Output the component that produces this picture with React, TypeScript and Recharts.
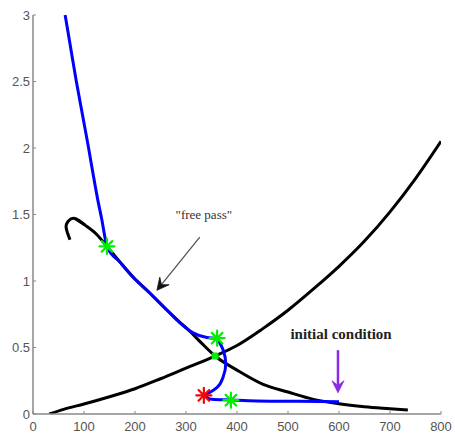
import React from 'react';
import {
    ComposedChart,
    Line,
    XAxis,
    YAxis,
    ReferenceDot,
    ReferenceLine,
} from 'recharts';

// Nullcline that rises to the right
const risingCurve = [
    { x: 32, y: 0 }, { x: 60, y: 0.035 }, { x: 100, y: 0.075 }, { x: 150, y: 0.13 },
    { x: 200, y: 0.19 }, { x: 250, y: 0.265 }, { x: 300, y: 0.345 }, { x: 357, y: 0.436 },
    { x: 400, y: 0.515 }, { x: 450, y: 0.64 }, { x: 500, y: 0.78 }, { x: 550, y: 0.94 },
    { x: 600, y: 1.11 }, { x: 650, y: 1.3 }, { x: 700, y: 1.52 }, { x: 750, y: 1.77 },
    { x: 800, y: 2.05 },
];

// Nullcline that falls to the right; the hook at its left end is kept apart
const hookCurve = [
    { x: 72.5, y: 1.31 }, { x: 65, y: 1.4 }, { x: 69, y: 1.45 }, { x: 82, y: 1.47 }, { x: 102, y: 1.42 },
];
const fallingCurve = [
    { x: 82, y: 1.47 }, { x: 102, y: 1.42 }, { x: 125, y: 1.35 }, { x: 145, y: 1.26 },
    { x: 171, y: 1.14 }, { x: 196, y: 1.03 }, { x: 229, y: 0.91 }, { x: 263, y: 0.78 },
    { x: 288, y: 0.69 }, { x: 308, y: 0.62 }, { x: 330, y: 0.535 }, { x: 357, y: 0.436 },
    { x: 400, y: 0.33 }, { x: 450, y: 0.225 }, { x: 500, y: 0.165 }, { x: 550, y: 0.11 },
    { x: 600, y: 0.077 }, { x: 650, y: 0.055 }, { x: 700, y: 0.04 }, { x: 735, y: 0.03 },
];

// Trajectory in three pieces: the run in from the initial condition,
// the loop round the fixed point, and the climb along the falling nullcline
const trajectoryStart = [
    { x: 335, y: 0.14 }, { x: 351, y: 0.11 }, { x: 386, y: 0.105 }, { x: 439, y: 0.098 },
    { x: 520, y: 0.095 }, { x: 600, y: 0.093 },
];
const trajectoryLoop = [
    { x: 335, y: 0.14 }, { x: 348, y: 0.165 }, { x: 361, y: 0.2 }, { x: 373, y: 0.28 },
    { x: 378, y: 0.38 }, { x: 373, y: 0.48 }, { x: 361, y: 0.57 },
];
const trajectoryEnd = [
    { x: 63, y: 3.0 }, { x: 74, y: 2.75 }, { x: 85, y: 2.5 }, { x: 97, y: 2.25 },
    { x: 109, y: 2.0 }, { x: 118, y: 1.8 }, { x: 127, y: 1.61 }, { x: 135, y: 1.46 },
    { x: 141, y: 1.33 }, { x: 145, y: 1.26 }, { x: 171, y: 1.14 }, { x: 196, y: 1.03 },
    { x: 229, y: 0.91 }, { x: 263, y: 0.78 }, { x: 288, y: 0.685 }, { x: 314, y: 0.61 },
    { x: 341, y: 0.575 }, { x: 361, y: 0.57 },
];

const greenStars = [
    { x: 145, y: 1.26 },
    { x: 361, y: 0.57 },
    { x: 388, y: 0.104 },
];
const redStars = [{ x: 335, y: 0.14 }];
const fixedPoint = { x: 357, y: 0.436 };

const xTicks = [0, 100, 200, 300, 400, 500, 600, 700, 800];
const yTicks = [0, 0.5, 1, 1.5, 2, 2.5, 3];

const tickStyle = { fontFamily: 'Liberation Sans, Arial, sans-serif', fontSize: 13, fill: '#555' };
const serif = 'Liberation Serif, Times New Roman, serif';

const Asterisk = ({ cx, cy, color }: { cx: number; cy: number; color: string }) => {
    const r = 7.5;
    const d = r * Math.SQRT1_2;
    return (
        <g stroke={color} strokeWidth={2.2} strokeLinecap="round">
            <line x1={cx - r} y1={cy} x2={cx + r} y2={cy} />
            <line x1={cx} y1={cy - r} x2={cx} y2={cy + r} />
            <line x1={cx - d} y1={cy - d} x2={cx + d} y2={cy + d} />
            <line x1={cx - d} y1={cy + d} x2={cx + d} y2={cy - d} />
        </g>
    );
};

// Line with a filled head at (x2, y2)
const arrowShape = (stroke: string, width: number, head: number, headFill: string) => (props: any) => {
    const { x1, y1, x2, y2 } = props;
    const ang = Math.atan2(y2 - y1, x2 - x1);
    const bx = x2 - head * Math.cos(ang);
    const by = y2 - head * Math.sin(ang);
    const w = head * 0.5;
    const px = -Math.sin(ang) * w;
    const py = Math.cos(ang) * w;
    const nx = x2 - head * 0.6 * Math.cos(ang);
    const ny = y2 - head * 0.6 * Math.sin(ang);
    return (
        <g>
            <line x1={x1} y1={y1} x2={nx} y2={ny} stroke={stroke} strokeWidth={width} />
            <path
                d={`M${x2},${y2} L${bx + px},${by + py} L${nx},${ny} L${bx - px},${by - py} Z`}
                fill={headFill}
                stroke={headFill}
                strokeWidth={0.8}
            />
        </g>
    );
};

const textLabel = (text: string, size: number, weight: string, fill: string) => (props: any) => {
    const { viewBox } = props;
    return (
        <text
            x={viewBox.x + viewBox.width / 2}
            y={viewBox.y + viewBox.height / 2}
            textAnchor="middle"
            dominantBaseline="central"
            fontFamily={serif}
            fontSize={size}
            fontWeight={weight}
            fill={fill}
        >
            {text}
        </text>
    );
};

const curveProps = { dataKey: 'y', strokeWidth: 3, dot: false, isAnimationActive: false } as const;

export default function App() {
    return (
        <div style={{ position: 'absolute', left: 0, top: 0, width: 455, height: 437, background: '#fff' }}>
            <ComposedChart width={455} height={437} margin={{ top: 15, right: 14, bottom: 3, left: 5 }}>
                <XAxis
                    type="number"
                    dataKey="x"
                    domain={[0, 800]}
                    ticks={xTicks}
                    height={20}
                    tick={tickStyle}
                    tickSize={-3}
                    tickMargin={11}
                    axisLine={{ stroke: '#888', strokeWidth: 1.5 }}
                    tickLine={{ stroke: '#888' }}
                    allowDataOverflow
                />
                <YAxis
                    type="number"
                    dataKey="y"
                    domain={[0, 3]}
                    ticks={yTicks}
                    width={28}
                    tick={tickStyle}
                    tickSize={-3}
                    tickMargin={6}
                    axisLine={{ stroke: '#888', strokeWidth: 1.5 }}
                    tickLine={{ stroke: '#888' }}
                    allowDataOverflow
                />

                <Line {...curveProps} data={risingCurve} type="monotone" stroke="#000" />
                <Line {...curveProps} data={hookCurve} type="natural" stroke="#000" />
                <Line {...curveProps} data={fallingCurve} type="monotone" stroke="#000" />
                <Line {...curveProps} data={trajectoryStart} type="monotone" stroke="#0000ff" />
                <Line {...curveProps} data={trajectoryLoop} type="monotoneY" stroke="#0000ff" />
                <Line {...curveProps} data={trajectoryEnd} type="monotone" stroke="#0000ff" />

                {/* "free pass" annotation */}
                <ReferenceLine
                    segment={[{ x: 327, y: 1.33 }, { x: 243, y: 0.93 }]}
                    shape={arrowShape('#555', 1.3, 12, '#111')}
                />
                <ReferenceDot x={335} y={1.5} r={0} fill="none" stroke="none" label={textLabel('"free pass"', 13, 'normal', '#333')} />

                {/* initial condition annotation */}
                <ReferenceLine
                    segment={[{ x: 598, y: 0.48 }, { x: 598, y: 0.16 }]}
                    shape={arrowShape('#8a2be2', 2.5, 12, '#8a2be2')}
                />
                <ReferenceDot x={604} y={0.6} r={0} fill="none" stroke="none" label={textLabel('initial condition', 15, 'bold', '#222')} />

                <ReferenceDot
                    x={fixedPoint.x}
                    y={fixedPoint.y}
                    r={4}
                    shape={(p: any) => <rect x={p.cx - 3.5} y={p.cy - 3.5} width={7} height={7} rx={1.5} fill="#00ee00" />}
                />
                {greenStars.map((s, i) => (
                    <ReferenceDot key={'g' + i} x={s.x} y={s.y} r={7} shape={(p: any) => <Asterisk cx={p.cx} cy={p.cy} color="#00ee00" />} />
                ))}
                {redStars.map((s, i) => (
                    <ReferenceDot key={'r' + i} x={s.x} y={s.y} r={7} shape={(p: any) => <Asterisk cx={p.cx} cy={p.cy} color="#ff0000" />} />
                ))}
            </ComposedChart>
        </div>
    );
}
